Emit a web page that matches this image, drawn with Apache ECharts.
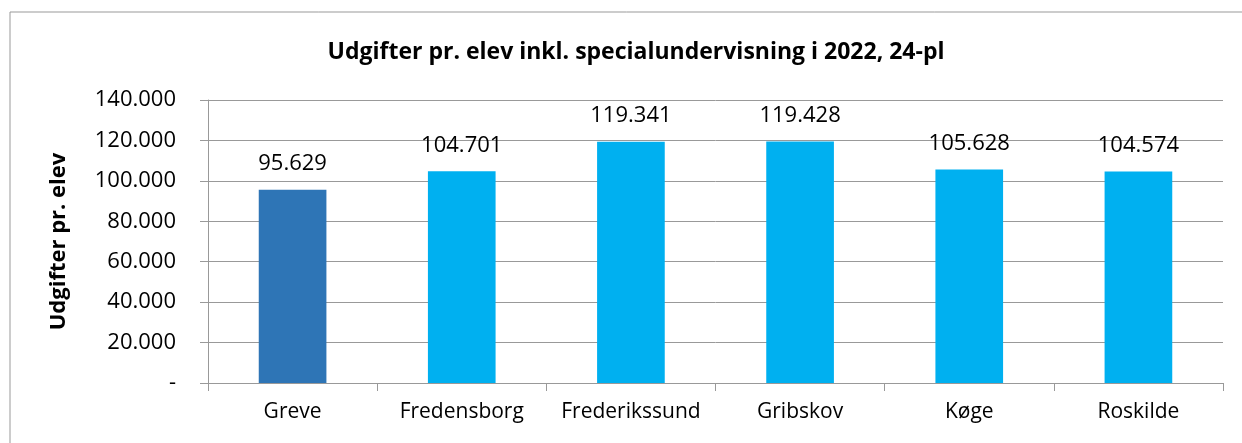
<!DOCTYPE html>
<html>
<head>
<meta charset="utf-8">
<script src="https://cdn.jsdelivr.net/npm/echarts@6/dist/echarts.min.js"></script>
<style>
  html, body { margin: 0; padding: 0; background: #fff; }
  #chart { width: 1242px; height: 443px; }
</style>
</head>
<body>
<div id="chart"></div>
<script>
var categories = ['Greve', 'Fredensborg', 'Frederikssund', 'Gribskov', 'Køge', 'Roskilde'];
var values = [95629, 104701, 119341, 119428, 105628, 104574];
var barColors = ['#2E75B6', '#00B0F0', '#00B0F0', '#00B0F0', '#00B0F0', '#00B0F0'];

function fmt(v) {
    if (v === 0) return '-';
    return String(v).replace(/\B(?=(\d{3})+(?!\d))/g, '.');
}

var chartDom = document.getElementById('chart');
var myChart = echarts.init(chartDom);
var font = 'Open Sans';
var option;

option = {
    animation: false,
    graphic: [{
        type: 'rect',
        shape: { x: 10, y: 12, width: 1240, height: 440 },
        style: { fill: 'none', stroke: '#999', lineWidth: 1 },
        z: -1
    }],
    title: {
        text: 'Udgifter pr. elev inkl. specialundervisning i 2022, 24-pl',
        left: 631,
        textAlign: 'center',
        top: 36,
        textStyle: { fontFamily: font, fontSize: 23, fontWeight: 'bold', color: '#000' }
    },
    grid: { left: 208, right: 19, top: 100, bottom: 60 },
    xAxis: {
        type: 'category',
        data: categories,
        axisLine: { lineStyle: { color: '#999' } },
        axisTick: { show: true, length: 8, lineStyle: { color: '#999' } },
        axisLabel: { interval: 0, fontFamily: font, fontSize: 21, color: '#000', margin: 19 }
    },
    yAxis: {
        type: 'value',
        min: 0,
        max: 140000,
        interval: 20000,
        name: 'Udgifter pr. elev',
        nameLocation: 'middle',
        nameGap: 138,
        nameTextStyle: { fontFamily: font, fontSize: 22, fontWeight: 'bold', color: '#000' },
        axisLine: { show: true, lineStyle: { color: '#999' } },
        axisTick: { show: true, length: 8, lineStyle: { color: '#999' } },
        splitLine: { lineStyle: { color: '#999' } },
        axisLabel: { fontFamily: font, fontSize: 22, color: '#000', margin: 32, formatter: fmt }
    },
    series: [{
        type: 'bar',
        barWidth: '40%',
        data: values.map(function (v, i) {
            return { value: v, itemStyle: { color: barColors[i] } };
        }),
        label: {
            show: true,
            position: 'top',
            distance: 15,
            fontFamily: font,
            fontSize: 22,
            color: '#000',
            formatter: function (p) { return fmt(p.value); }
        }
    }]
};

option && myChart.setOption(option);
</script>
</body>
</html>
